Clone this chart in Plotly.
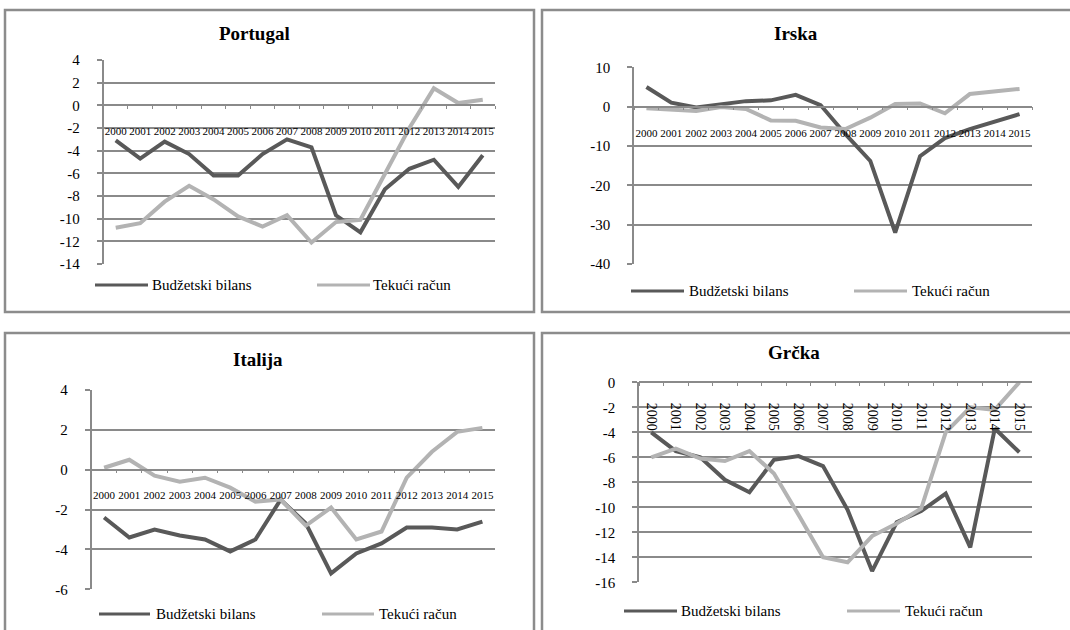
import plotly.graph_objects as go

# ---------------- data ----------------
years = ["2000", "2001", "2002", "2003", "2004", "2005", "2006", "2007",
         "2008", "2009", "2010", "2011", "2012", "2013", "2014", "2015"]

series_names = ["Budžetski bilans", "Tekući račun"]
countries = ["Portugal", "Irska", "Italija", "Grčka"]

portugal_budget = [-3.1, -4.7, -3.2, -4.3, -6.2, -6.2, -4.3, -3.0,
                   -3.7, -9.7, -11.2, -7.4, -5.6, -4.8, -7.2, -4.4]
portugal_current = [-10.8, -10.4, -8.5, -7.1, -8.3, -9.8, -10.7, -9.7,
                    -12.1, -10.3, -10.1, -6.1, -2.0, 1.5, 0.2, 0.5]

irska_budget = [5.0, 1.0, -0.2, 0.6, 1.4, 1.6, 3.0, 0.4,
                -7.0, -13.8, -32.0, -12.6, -8.0, -5.7, -3.7, -1.9]
irska_current = [-0.4, -0.7, -1.1, -0.1, -0.6, -3.5, -3.6, -5.3,
                 -5.7, -2.8, 0.7, 0.8, -1.7, 3.2, 3.8, 4.5]

italija_budget = [-2.4, -3.4, -3.0, -3.3, -3.5, -4.1, -3.5, -1.5,
                  -2.7, -5.2, -4.2, -3.7, -2.9, -2.9, -3.0, -2.6]
italija_current = [0.1, 0.5, -0.3, -0.6, -0.4, -0.9, -1.6, -1.5,
                   -2.8, -1.9, -3.5, -3.1, -0.4, 0.9, 1.9, 2.1]

grcka_budget = [-4.0, -5.5, -6.0, -7.8, -8.8, -6.2, -5.9, -6.7,
                -10.2, -15.1, -11.2, -10.3, -8.9, -13.2, -3.7, -5.6]
grcka_current = [-6.0, -5.3, -6.1, -6.3, -5.5, -7.3, -10.6, -14.0,
                 -14.4, -12.3, -11.3, -10.1, -4.0, -2.0, -2.2, 0.0]

y_ranges = [(-14, 4, 2), (-40, 10, 10), (-6, 4, 2), (-16, 0, 2)]

data = [(portugal_budget, portugal_current),
        (irska_budget, irska_current),
        (italija_budget, italija_current),
        (grcka_budget, grcka_current)]

# ---------------- layout helpers ----------------
W, H = 1070, 630


def X(px):
    return px / W


def Y(py):
    return 1 - py / H


DARK = "#595959"
LIGHT = "#b3b3b3"
GRID = "#8a8a8a"
FONT = "Liberation Serif"

# plot areas in pixels: (left, right, top, bottom)
areas = [(103.5, 495, 60, 264),
         (634, 1032, 67.3, 264),
         (91.5, 495, 390, 589.3),
         (639, 1031.6, 382.3, 582.3)]
# panel borders (x0, x1, y0, y1)
borders = [(5, 534, 10, 312), (542, 1080, 10, 312),
           (5, 534, 333, 640), (542, 1080, 333, 640)]
titles_pos = [(254, 33), (796, 33), (258, 359), (794, 352)]
# legend: (line1 x0, x1, text1 x, line2 x0, x1, text2 x, y)
legends = [(95, 148, 152, 317, 370, 373, 285),
           (631, 684, 689, 854, 907, 912, 291),
           (99, 150, 156, 322, 374, 379, 614),
           (624, 677, 681, 847, 900, 905, 611)]
xlab = [dict(size=11, angle=0, standoff=16),
        dict(size=11, angle=0, standoff=16),
        dict(size=11, angle=0, standoff=15),
        dict(size=14, angle=90, standoff=17)]

fig = go.Figure()
layout = dict(
    width=W, height=H, autosize=False,
    margin=dict(l=0, r=0, t=0, b=0, pad=0, autoexpand=False),
    paper_bgcolor="white", plot_bgcolor="white",
    showlegend=False,
    font=dict(family=FONT, color="black"),
)
shapes = []
annotations = []

for i in range(4):
    n = i + 1
    sfx = "" if n == 1 else str(n)
    l, r, t, b = areas[i]
    ymin, ymax, dt = y_ranges[i]
    ydom = [Y(b), Y(t)]
    zero_pos = ydom[0] + (0 - ymin) / (ymax - ymin) * (ydom[1] - ydom[0])
    budget, current = data[i]
    tvals = list(range(ymin, ymax + 1, dt))
    ttext = [str(v) for v in tvals]

    fig.add_trace(go.Scatter(x=years, y=budget, mode="lines", name=series_names[0],
                             line=dict(color=DARK, width=4),
                             xaxis="x" + sfx, yaxis="y" + sfx))
    fig.add_trace(go.Scatter(x=years, y=current, mode="lines", name=series_names[1],
                             line=dict(color=LIGHT, width=4),
                             xaxis="x" + sfx, yaxis="y" + sfx))

    layout["xaxis" + sfx] = dict(
        domain=[X(l), X(r)], anchor="free", position=zero_pos,
        type="category", categoryorder="array", categoryarray=years,
        range=[-0.5, len(years) - 0.5], automargin=False,
        tickson="boundaries", ticks="outside", ticklen=3, tickwidth=1,
        tickcolor=GRID, showline=True, linecolor=GRID, linewidth=1.5,
        showgrid=False, zeroline=False,
        tickangle=xlab[i]["angle"],
        tickfont=dict(family=FONT, size=xlab[i]["size"], color="black"),
        ticklabelstandoff=xlab[i]["standoff"],
    )
    layout["yaxis" + sfx] = dict(
        domain=ydom, anchor="x" + sfx, automargin=False,
        range=[ymin, ymax], tickmode="array", tickvals=tvals, ticktext=ttext,
        showgrid=True, gridcolor=GRID, gridwidth=1.5,
        ticks="outside", ticklen=5, tickcolor=GRID, tickwidth=1.5,
        showline=True, linecolor=GRID, linewidth=1.5, zeroline=False,
        tickfont=dict(family=FONT, size=15, color="black"),
        ticklabelstandoff=14,
    )

    bx0, bx1, by0, by1 = borders[i]
    shapes.append(dict(type="rect", xref="paper", yref="paper",
                       x0=X(bx0), x1=X(bx1), y0=Y(by1), y1=Y(by0),
                       line=dict(color="#8c8c8c", width=2.5),
                       fillcolor="rgba(0,0,0,0)", layer="below"))

    tx, ty = titles_pos[i]
    annotations.append(dict(text="<b>" + countries[i] + "</b>", xref="paper", yref="paper",
                            x=X(tx), y=Y(ty), xanchor="center", yanchor="middle",
                            showarrow=False, font=dict(family=FONT, size=19, color="black")))

    a0, a1, at, c0, c1, ct, ly = legends[i]
    for (lx0, lx1, txp, col, name) in [(a0, a1, at, DARK, series_names[0]),
                                        (c0, c1, ct, LIGHT, series_names[1])]:
        shapes.append(dict(type="line", xref="paper", yref="paper",
                           x0=X(lx0), x1=X(lx1), y0=Y(ly), y1=Y(ly),
                           line=dict(color=col, width=3)))
        annotations.append(dict(text=name, xref="paper", yref="paper",
                                x=X(txp), y=Y(ly), xanchor="left", yanchor="middle",
                                showarrow=False, xshift=-2,
                                font=dict(family=FONT, size=15, color="black")))

layout["shapes"] = shapes
layout["annotations"] = annotations
fig.update_layout(**layout)

fig.write_html(
    "out.html",
    config={"displayModeBar": False, "responsive": False},
    post_script="document.body.style.margin='0px';document.body.style.overflow='hidden';",
)
